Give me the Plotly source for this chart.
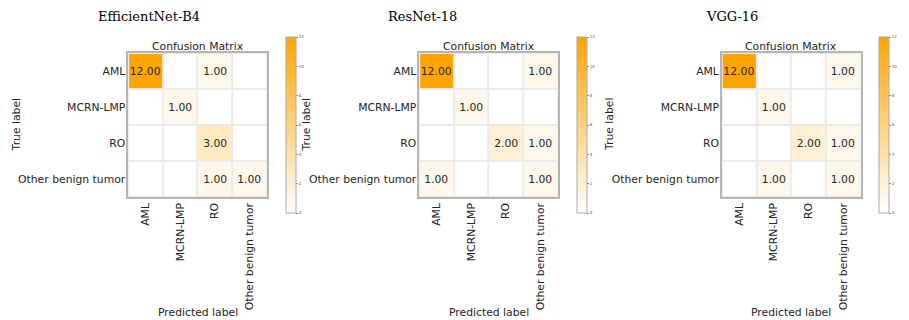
import plotly.graph_objects as go

classes = ["AML", "MCRN-LMP", "RO", "Other benign tumor"]
model_names = ["EfficientNet-B4", "ResNet-18", "VGG-16"]

cm_efficientnet = [[12, 0, 1, 0],
                   [0, 1, 0, 0],
                   [0, 0, 3, 0],
                   [0, 0, 1, 1]]
cm_resnet = [[12, 0, 0, 1],
             [0, 1, 0, 0],
             [0, 0, 2, 1],
             [1, 0, 0, 1]]
cm_vgg = [[12, 0, 0, 1],
          [0, 1, 0, 0],
          [0, 0, 2, 1],
          [0, 1, 0, 1]]
matrices = [cm_efficientnet, cm_resnet, cm_vgg]
cbar_ticks = [0, 2, 4, 6, 8, 10, 12]

W, H = 909, 320
# pixel layout of each panel: heatmap left, right, colorbar left, title x, ylabel x
panels = [
    dict(left=133, right=277, cb=286, title_x=155, ylab_x=17),
    dict(left=435, right=579, cb=588, title_x=438, ylab_x=318),
    dict(left=749, right=893, cb=902, title_x=760, ylab_x=632),
]
top, bottom = 53, 197

FONT = "DejaVu Sans"
fs = 10.8
txt_col = "#262626"
colorscale = [[0, "#ffffff"], [1, "#ffa500"]]

fig = go.Figure()
annotations = []
for i, (name, cm, p) in enumerate(zip(model_names, matrices, panels)):
    n = i + 1
    xa = "x" if n == 1 else f"x{n}"
    ya = "y" if n == 1 else f"y{n}"
    text = [[f"{v:.2f}" if v != 0 else "" for v in row] for row in cm]
    fig.add_trace(go.Heatmap(
        z=cm, x=classes, y=classes, text=text, texttemplate="%{text}",
        textfont=dict(family=FONT, size=fs, color=txt_col),
        colorscale=colorscale, zmin=0, zmax=12, xgap=2, ygap=2,
        xaxis=xa, yaxis=ya, hoverinfo="skip",
        colorbar=dict(x=p["cb"] / W, xanchor="left", y=1 - 125 / H, yanchor="middle",
                      len=196 / H, lenmode="fraction", thickness=10,
                      outlinecolor="#aaaaaa", outlinewidth=1,
                      tickvals=cbar_ticks, ticks="outside", ticklen=2, tickwidth=0.5,
                      tickcolor="#888888",
                      tickfont=dict(family=FONT, size=4, color="#555555")),
    ))
    axkey = "xaxis" if n == 1 else f"xaxis{n}"
    aykey = "yaxis" if n == 1 else f"yaxis{n}"
    fig.update_layout(**{
        axkey: dict(domain=[p["left"] / W, p["right"] / W], anchor=ya,
                    tickangle=-90, tickfont=dict(family=FONT, size=fs, color=txt_col),
                    showline=True, mirror=True, linecolor="#b5b5b5", linewidth=1.5,
                    showgrid=False, zeroline=False, ticks="", fixedrange=True),
        aykey: dict(domain=[1 - bottom / H, 1 - top / H], anchor=xa,
                    autorange="reversed", tickfont=dict(family=FONT, size=fs, color=txt_col),
                    showline=True, mirror=True, linecolor="#b5b5b5", linewidth=1.5,
                    showgrid=False, zeroline=False, ticks="", fixedrange=True,
                    ticklabelstandoff=-1),
    })
    cx = (p["left"] + p["right"]) / 2 / W
    annotations += [
        dict(text=name, x=p["title_x"] / W, y=1 - 17 / H, xref="paper", yref="paper",
             showarrow=False, xanchor="center", yanchor="middle",
             font=dict(family="DejaVu Serif", size=13, color="#000000")),
        dict(text="Confusion Matrix", x=cx, y=1 - 46 / H, xref="paper", yref="paper",
             showarrow=False, xanchor="center", yanchor="middle",
             font=dict(family=FONT, size=fs, color=txt_col)),
        dict(text="True label", x=p["ylab_x"] / W, y=1 - 125 / H, xref="paper", yref="paper",
             showarrow=False, xanchor="center", yanchor="middle", textangle=-90,
             font=dict(family=FONT, size=fs, color=txt_col)),
        dict(text="Predicted label", x=cx, y=1 - 312 / H, xref="paper", yref="paper",
             showarrow=False, xanchor="center", yanchor="middle",
             font=dict(family=FONT, size=fs, color=txt_col)),
    ]

fig.update_layout(width=W, height=H, margin=dict(l=0, r=0, t=0, b=0),
                  paper_bgcolor="white", plot_bgcolor="#ebebeb",
                  annotations=annotations, showlegend=False)
fig.write_html("out.html")
